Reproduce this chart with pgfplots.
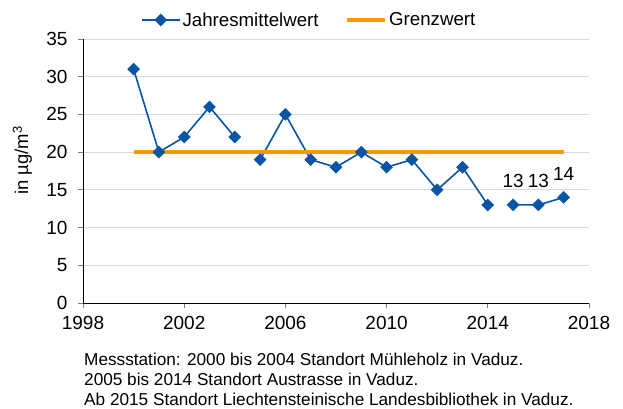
\documentclass[border=0pt]{standalone}
\usepackage{fontspec}
\setmainfont{Liberation Sans}
\usepackage{pgfplots}
\pgfplotsset{compat=1.18}
\definecolor{myblue}{HTML}{0A54A5}
\definecolor{myorange}{HTML}{FF9900}
\begin{document}
\begin{tikzpicture}
\useasboundingbox (0,0) rectangle (623bp,409bp);
\begin{axis}[
  at={(83bp,106bp)}, anchor=south west,
  scale only axis, width=506bp, height=264bp,
  xmin=1998, xmax=2018, ymin=0, ymax=35,
  xtick={1998,2002,...,2018}, ytick={0,5,...,35},
  axis x line*=bottom, axis y line*=left,
  axis line style={black, line width=0.8bp, -},
  ymajorgrids, grid style={gray!30, line width=0.8bp},
  tick align=outside, major tick length=5bp,
  tick style={gray, line width=0.8bp},
  /pgf/number format/1000 sep={},
  /pgf/number format/assume math mode=true,
  ticklabel style={font=\fontsize{19bp}{22bp}\selectfont},
  yticklabel style={xshift=-7bp},
  xticklabel style={yshift=-5bp},
  ylabel={in µg/m\textsuperscript{3}},
  ylabel style={at={(axis description cs:-0.12,0.54)}, anchor=center, font=\fontsize{18.5bp}{21bp}\selectfont},
  legend style={at={(axis description cs:0.447,1.072)}, anchor=center, draw=none, fill=none, legend columns=2,
    font=\fontsize{18.7bp}{21bp}\selectfont, /tikz/every even column/.append style={column sep=25bp}},
  legend image code/.code={\draw[mark repeat=2,mark phase=2,#1] plot coordinates {(0bp,0bp)(19bp,0bp)(38bp,0bp)};},
  unbounded coords=jump,
  clip=false,
]
\addplot[myblue, line width=1.6bp, mark=square*, mark size=3.7bp, mark options={rotate=45, solid}]
  coordinates {(2000,31)(2001,20)(2002,22)(2003,26)(2004,22)(2004.5,nan)
  (2005,19)(2006,25)(2007,19)(2008,18)(2009,20)(2010,18)(2011,19)(2012,15)(2013,18)(2014,13)};
\addlegendentry{Jahresmittelwert}
\addplot[myorange, line width=3.5bp] coordinates {(2000,20)(2017,20)};
\addlegendentry{Grenzwert}
\addplot[myblue, line width=1.6bp, mark=square*, mark size=3.7bp, mark options={rotate=45, solid}, forget plot,
  nodes near coords, nodes near coords style={anchor=base, inner sep=0pt, yshift=17bp, text=black, font=\fontsize{19bp}{22bp}\selectfont}]
  coordinates {(2015,13)(2016,13)(2017,14)};
\end{axis}
\node[anchor=base west, inner sep=0pt, font=\fontsize{17.2bp}{20bp}\selectfont] at (84bp,43bp) {Messstation: 2000 bis 2004 Standort Mühleholz in Vaduz.};
\node[anchor=base west, inner sep=0pt, font=\fontsize{17.2bp}{20bp}\selectfont] at (84bp,23.5bp) {2005 bis 2014 Standort Austrasse in Vaduz.};
\node[anchor=base west, inner sep=0pt, font=\fontsize{17.2bp}{20bp}\selectfont] at (84bp,4bp) {Ab 2015 Standort Liechtensteinische Landesbibliothek in Vaduz.};
\end{tikzpicture}
\end{document}
